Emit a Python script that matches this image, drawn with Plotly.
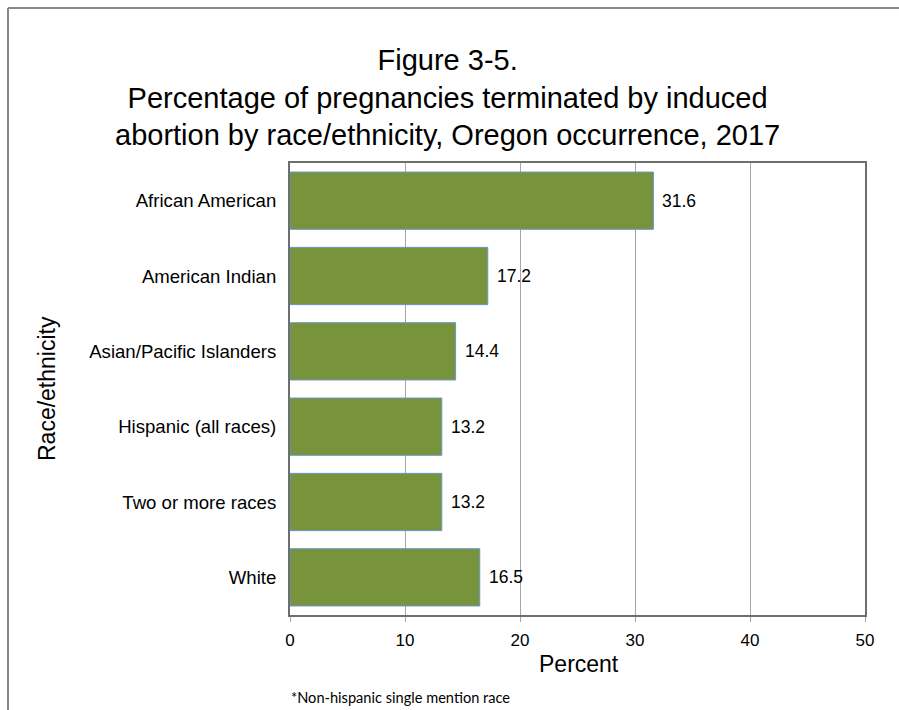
import plotly.graph_objects as go

categories = ["African American", "American Indian", "Asian/Pacific Islanders",
              "Hispanic (all races)", "Two or more races", "White"]
values = [31.6, 17.2, 14.4, 13.2, 13.2, 16.5]
x_ticks = [0, 10, 20, 30, 40, 50]

W, H = 899, 710
L, R, T, B = 290, 34, 163, 95
pw, ph = W - L - R, H - T - B

def px_x(x):
    return (x - L) / pw

def px_y(y):
    return (H - B - y) / ph

fig = go.Figure()
fig.add_trace(go.Bar(
    y=categories, x=values, orientation="h",
    marker=dict(color="#77933C", line=dict(color="#6A96CC", width=1)),
    hoverinfo="skip",
))

annotations = []
for c, v in zip(categories, values):
    annotations.append(dict(x=v, y=c, xref="x", yref="y", text=f"{v:.1f}",
                            showarrow=False, xanchor="left", yanchor="middle",
                            xshift=7, font=dict(size=17.5, color="#000000",
                                                family="Liberation Sans, Arial")))

annotations.append(dict(
    x=px_x(447), y=px_y(98), xref="paper", yref="paper",
    text="Figure 3-5.<br>Percentage of pregnancies terminated by induced<br>abortion by race/ethnicity, Oregon occurrence, 2017",
    showarrow=False, xanchor="center", yanchor="middle", align="center",
    font=dict(size=29, color="#000000", family="Liberation Sans, Arial")))
annotations.append(dict(
    x=px_x(579), y=px_y(664), xref="paper", yref="paper", text="Percent",
    showarrow=False, xanchor="center", yanchor="middle",
    font=dict(size=23, color="#000000", family="Liberation Sans, Arial")))
annotations.append(dict(
    x=px_x(47), y=px_y(389), xref="paper", yref="paper", text="Race/ethnicity",
    showarrow=False, xanchor="center", yanchor="middle", textangle=-90,
    font=dict(size=23, color="#000000", family="Liberation Sans, Arial")))
annotations.append(dict(
    x=px_x(289), y=px_y(697), xref="paper", yref="paper",
    text="*Non-hispanic single mention race",
    showarrow=False, xanchor="left", yanchor="middle",
    font=dict(size=14.6, color="#000000", family="Lato, Open Sans")))

border = dict(color="#888888", width=2)
shapes = [
    dict(type="line", xref="paper", yref="paper",
         x0=px_x(8), y0=px_y(8), x1=px_x(W), y1=px_y(8), line=border, layer="below"),
    dict(type="line", xref="paper", yref="paper",
         x0=px_x(8), y0=px_y(8), x1=px_x(8), y1=px_y(H), line=border, layer="below"),
]

fig.update_layout(
    width=W, height=H,
    margin=dict(l=L, r=R, t=T, b=B, autoexpand=False),
    paper_bgcolor="white", plot_bgcolor="white",
    showlegend=False, bargap=0.24,
    font=dict(family="Liberation Sans, Arial", color="#000000"),
    annotations=annotations, shapes=shapes,
    xaxis=dict(range=[0, 50], tickvals=x_ticks, showgrid=True,
               gridcolor="#A6A6A6", gridwidth=1, zeroline=False,
               showline=True, linecolor="#6E6E6E", linewidth=2, mirror=True,
               ticks="outside", ticklen=5, tickcolor="#A6A6A6", tickwidth=1,
               tickfont=dict(size=17, color="#000000"), ticklabelstandoff=4,
               fixedrange=True),
    yaxis=dict(categoryorder="array", categoryarray=categories, autorange="reversed",
               showgrid=False, showline=True, linecolor="#6E6E6E", linewidth=2,
               mirror=True, ticks="", tickfont=dict(size=18.6, color="#000000"),
               ticklabelstandoff=8, fixedrange=True),
)

fig.write_html("out.html")
